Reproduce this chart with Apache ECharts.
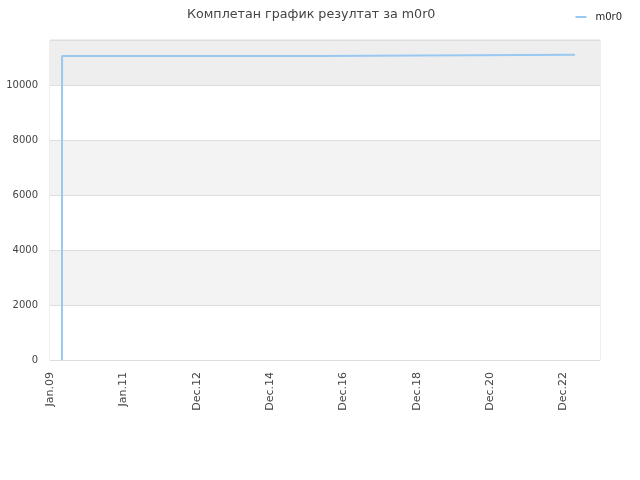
<!DOCTYPE html>
<html><head><meta charset="utf-8">
<script src="https://cdn.jsdelivr.net/npm/echarts@6/dist/echarts.min.js"></script>
<style>html,body{margin:0;padding:0;background:#fff}#c{width:640px;height:480px}</style>
</head><body><div id="c"></div>
<script>
var title = 'Комплетан график резултат за m0r0';
var seriesName = 'm0r0';
var dates = ['2009-04-30', '2009-05-01', '2016-04-21', '2016-04-22', '2023-04-25'];
var values = [0, 11050, 11050, 11100, 11100];
var axisStart = '2009-01-01';
var axisDays = 5475;
var tickDays = 730;
var yMax = 11636;
var yInterval = 2000;
var monthNames = ['Jan','Feb','Mar','Apr','May','Jun','Jul','Aug','Sep','Oct','Nov','Dec'];

var DAY = 86400000;
var t0 = Date.parse(axisStart + 'T00:00:00Z');
function toDays(s){ return (Date.parse(s + 'T00:00:00Z') - t0) / DAY; }
var data = dates.map(function(d, i){ return [toDays(d), values[i]]; });

var chart = echarts.init(document.getElementById('c'));
chart.setOption({
  animation: false,
  title: { text: title, left: 182, top: 3,
    textStyle: { fontFamily: 'DejaVu Sans', fontSize: 12.7, fontWeight: 'normal', color: '#444' } },
  legend: { right: 13, top: 7, itemWidth: 11, itemHeight: 2, itemGap: 5,
    icon: 'rect',
    textStyle: { fontFamily: 'DejaVu Sans', fontSize: 10, color: '#222', padding: [0, 0, 0, 4] },
    data: [seriesName] },
  grid: { left: 50, right: 40, top: 40, bottom: 120, show: true, borderColor: '#dddddd', borderWidth: 1 },
  xAxis: {
    type: 'value', min: 0, max: axisDays, interval: tickDays,
    axisLine: { show: false }, axisTick: { show: false }, splitLine: { show: false },
    axisLabel: { rotate: 90, color: '#444', fontFamily: 'DejaVu Sans', fontSize: 11, margin: 12,
      showMaxLabel: false,
      formatter: function(v){
        var d = new Date(t0 + v * DAY);
        return monthNames[d.getUTCMonth()] + '.' + String(d.getUTCFullYear() % 100).padStart(2, '0');
      } }
  },
  yAxis: {
    type: 'value', min: 0, max: yMax, interval: yInterval,
    axisLine: { show: false }, axisTick: { show: false },
    axisLabel: { color: '#444', fontFamily: 'DejaVu Sans', fontSize: 10, margin: 12, showMaxLabel: false,
      formatter: function(v){ return String(v); } },
    splitLine: { show: true, lineStyle: { color: '#dddddd', width: 1 } },
    splitArea: { show: true, areaStyle: { color: ['#ffffff', '#f3f3f3', '#ffffff', '#f3f3f3', '#ffffff', '#eeeeee'] } }
  },
  series: [{
    name: seriesName, type: 'line', data: data, showSymbol: false, symbol: 'none', step: 'end',
    lineStyle: { color: '#99c8f2', width: 2 }, itemStyle: { color: '#99c8f2' }
  }]
});
</script></body></html>
